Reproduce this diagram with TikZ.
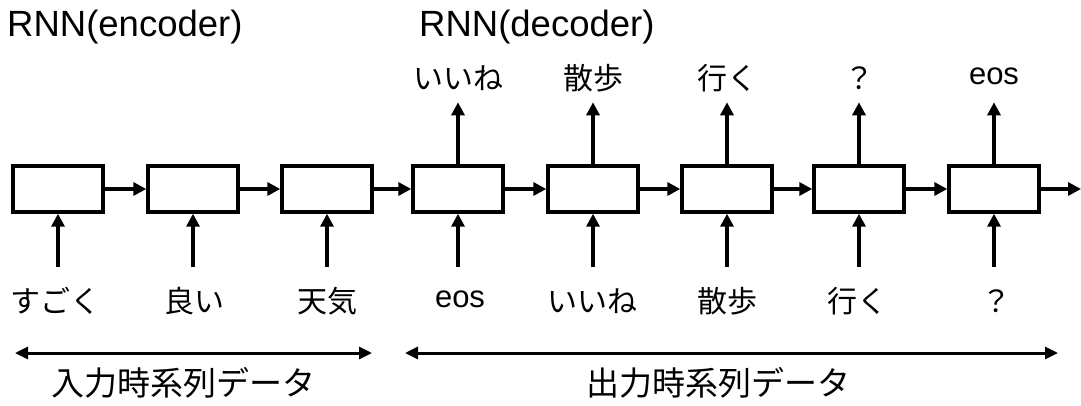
\documentclass[tikz,border=0pt]{standalone}
\usepackage{fontspec}
\setmainfont{Liberation Sans}
\newfontfamily\jp{Noto Sans CJK JP}
\usetikzlibrary{arrows.meta}
\begin{document}
\begin{tikzpicture}[x=1pt,y=-1pt,
  cell/.style={draw,line width=3.4pt,minimum width=90pt,minimum height=46pt,inner sep=0pt},
  flow/.style={line width=3.2pt,-{Triangle[length=13pt,width=13pt]}},
  span/.style={line width=3pt,{Triangle[length=13pt,width=12pt]}-{Triangle[length=13pt,width=12pt]}},
  lab/.style={font=\fontsize{30pt}{34pt}\selectfont\jp,inner sep=0pt,anchor=center},
  lat/.style={font=\fontsize{31pt}{34pt}\selectfont,inner sep=0pt,anchor=center},
  title/.style={font=\fontsize{36.5pt}{40pt}\selectfont,inner sep=0pt,anchor=west},
  caption/.style={font=\fontsize{33pt}{36pt}\selectfont\jp,inner sep=0pt,anchor=center}]
\useasboundingbox (0,0) rectangle (1081,405);

% titles
\node[title] (tenc) at (7,27) {RNN(encoder)};
\node[title] (tdec) at (419,27) {RNN(decoder)};

% RNN cells
\foreach \i/\x in {1/58,2/193,3/327,4/458,5/593,6/727,7/859,8/994}
  \node[cell] (c\i) at (\x,189) {};

% hidden-state arrows
\foreach \a/\b in {1/2,2/3,3/4,4/5,5/6,6/7,7/8}
  \draw[flow] (c\a.east) -- (c\b.west);
\coordinate (hend) at (1081,189);
\draw[flow] (c8.east) -- (hend);

% input labels
\node[lab] (i1) at (55,301) {すごく};
\node[lab] (i2) at (194,301) {良い};
\node[lab] (i3) at (327,301) {天気};
\node[lat] (i4) at (460,299) {eos};
\node[lab] (i5) at (592,301) {いいね};
\node[lab] (i6) at (727,301) {散歩};
\node[lab] (i7) at (857,301) {行く};
\node[lab] (i8) at (996,301) {？};

% output labels
\node[lab] (o4) at (458,78) {いいね};
\node[lab] (o5) at (593,78) {散歩};
\node[lab] (o6) at (727,78) {行く};
\node[lab] (o7) at (859,78) {？};
\node[lat] (o8) at (994,76) {eos};

% input arrows
\foreach \i in {1,...,8}
  \draw[flow] (c\i.south) ++(0,53) coordinate (b\i) -- (c\i.south);

% output arrows
\foreach \i in {4,...,8}
  \draw[flow] (c\i.north) -- ++(0,-62) coordinate (t\i);

% sequence spans
\coordinate (l1) at (15,353);
\coordinate (l2) at (372,353);
\coordinate (r1) at (405,353);
\coordinate (r2) at (1058,353);
\draw[span] (l1) -- (l2);
\draw[span] (r1) -- (r2);
\node[caption] (cin) at (183,383) {入力時系列データ};
\node[caption] (cout) at (718,383) {出力時系列データ};
\end{tikzpicture}
\end{document}
